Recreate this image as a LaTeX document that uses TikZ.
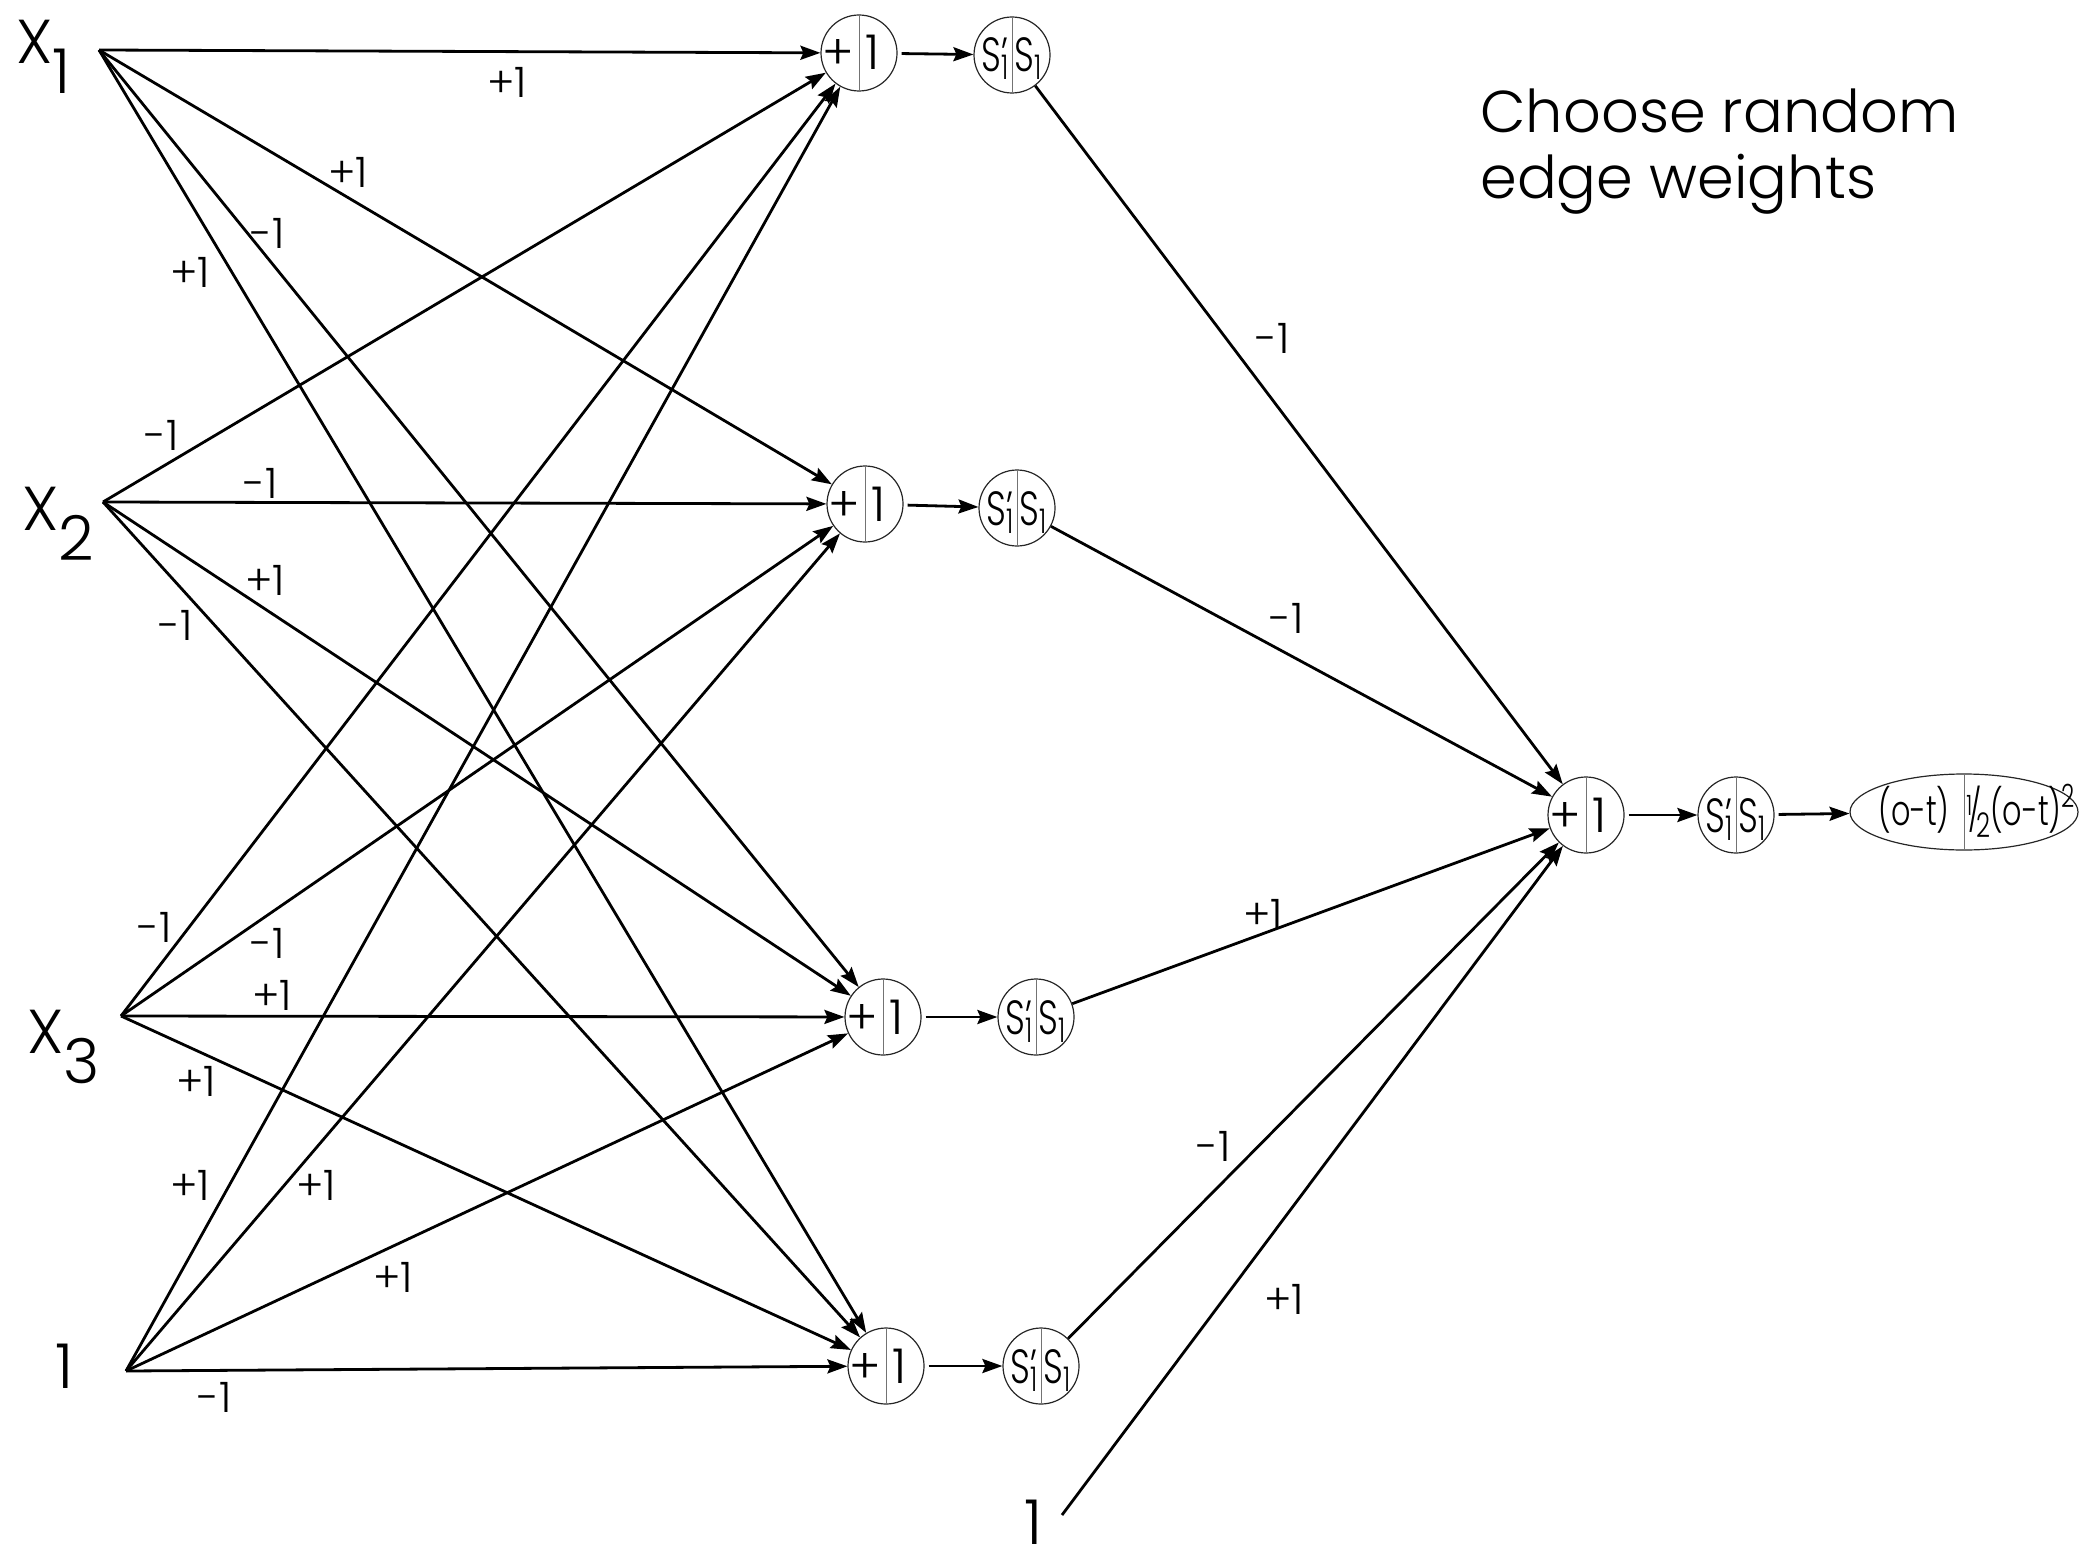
\documentclass[tikz,border=0pt]{standalone}
\usepackage{fontspec}
\IfFontExistsTF{Poppins Light}{\setmainfont{Poppins Light}}{\setmainfont{Poppins}}
\usetikzlibrary{arrows.meta,calc,positioning,shapes.geometric}

% derivative and value of the squashing function
\newcommand{\narrow}[1]{\scalebox{0.72}[1]{#1}}
\newcommand{\sdash}{\narrow{S\rlap{'}\lower4pt\hbox{\fontsize{17}{17}\selectfont 1}}}
\newcommand{\sval}{\narrow{S\lower4pt\hbox{\fontsize{17}{17}\selectfont 1}}}
\newcommand{\halfsq}{\narrow{\raisebox{5pt}{\fontsize{14}{14}\selectfont 1}\kern-3pt/\kern-3.5pt\raisebox{-6pt}{\fontsize{17}{17}\selectfont 2}(o-t)\raisebox{9pt}{\fontsize{16}{16}\selectfont 2}}}

\tikzset{
  unit/.style={circle,draw=black!85,line width=0.6pt,minimum size=38pt,inner sep=0pt},
  errunit/.style={ellipse,draw=black!85,line width=0.6pt,minimum width=114pt,minimum height=38pt,inner sep=0pt},
  split/.style={draw=black!55,line width=0.5pt},
  wire/.style={line width=1.4pt,-{Stealth[length=10pt,width=7pt,inset=1.5pt]}},
  wt/.style={font=\fontsize{21}{21}\selectfont,inner sep=0pt},
  utxt/.style={font=\fontsize{24}{24}\selectfont,inner sep=0pt},
  big/.style={font=\fontsize{31}{31}\selectfont,inner sep=0pt}
}

\begin{document}
\begin{tikzpicture}[x=0.5pt,y=0.5pt,yscale=-1,xscale=1]
\useasboundingbox (0,0) rectangle (2080,1556);

%Inputs
\coordinate (x1) at (99,50);
\coordinate (x2) at (103,502);
\coordinate (x3) at (121,1016);
\coordinate (b1) at (126,1371);
\coordinate (b2) at (1062,1515);
\node[big,anchor=base west] (lx1) at (16,64) {X\lower15pt\hbox{1}};
\node[big,anchor=base west] (lx2) at (22,530) {X\lower15pt\hbox{2}};
\node[big,anchor=base west] (lx3) at (27,1053) {X\lower15pt\hbox{3}};
\node[big,anchor=base] (lb1) at (65,1388) {1};
\node[big,anchor=base] (lb2) at (1034,1544) {1};

%Hidden units
\node[unit] (h1) at (859,53) {};
\node[unit] (h2) at (865,504) {};
\node[unit] (h3) at (883,1017) {};
\node[unit] (h4) at (886,1366) {};
\node[unit] (s1) at (1012,55) {};
\node[unit] (s2) at (1017,508) {};
\node[unit] (s3) at (1036,1017) {};
\node[unit] (s4) at (1041,1366) {};

%Output units
\node[unit] (o) at (1586,815) {};
\node[unit] (so) at (1736,815) {};
\node[errunit] (err) at (1964,812) {};

%Dividers
\draw[split] (h1.north) -- (h1.south);
\draw[split] (h2.north) -- (h2.south);
\draw[split] (h3.north) -- (h3.south);
\draw[split] (h4.north) -- (h4.south);
\draw[split] (s1.north) -- (s1.south);
\draw[split] (s2.north) -- (s2.south);
\draw[split] (s3.north) -- (s3.south);
\draw[split] (s4.north) -- (s4.south);
\draw[split] (o.north) -- (o.south);
\draw[split] (so.north) -- (so.south);
\draw[split] (err.north) -- (err.south);

%Unit contents
\node[utxt,anchor=base east] (h1a) at ($(h1)+(-5,17)$) {+};
\node[utxt,anchor=base west] (h1b) at ($(h1)+(6,17)$) {1};
\node[utxt,anchor=base east] (h2a) at ($(h2)+(-5,17)$) {+};
\node[utxt,anchor=base west] (h2b) at ($(h2)+(6,17)$) {1};
\node[utxt,anchor=base east] (h3a) at ($(h3)+(-5,17)$) {+};
\node[utxt,anchor=base west] (h3b) at ($(h3)+(6,17)$) {1};
\node[utxt,anchor=base east] (h4a) at ($(h4)+(-5,17)$) {+};
\node[utxt,anchor=base west] (h4b) at ($(h4)+(6,17)$) {1};
\node[utxt,anchor=base east] (oa) at ($(o)+(-5,17)$) {+};
\node[utxt,anchor=base west] (ob) at ($(o)+(6,17)$) {1};
\node[utxt,anchor=base east] (s1a) at ($(s1)+(-3,17)$) {\sdash};
\node[utxt,anchor=base west] (s1b) at ($(s1)+(2,17)$) {\sval};
\node[utxt,anchor=base east] (s2a) at ($(s2)+(-3,17)$) {\sdash};
\node[utxt,anchor=base west] (s2b) at ($(s2)+(2,17)$) {\sval};
\node[utxt,anchor=base east] (s3a) at ($(s3)+(-3,17)$) {\sdash};
\node[utxt,anchor=base west] (s3b) at ($(s3)+(2,17)$) {\sval};
\node[utxt,anchor=base east] (s4a) at ($(s4)+(-3,17)$) {\sdash};
\node[utxt,anchor=base west] (s4b) at ($(s4)+(2,17)$) {\sval};
\node[utxt,anchor=base east] (soa) at ($(so)+(-3,17)$) {\sdash};
\node[utxt,anchor=base west] (sob) at ($(so)+(2,17)$) {\sval};
\node[utxt,font=\fontsize{21}{21}\selectfont,anchor=base east] (erra) at ($(err)+(-14,13)$) {\narrow{(o-t)}};
\node[utxt,font=\fontsize{21}{21}\selectfont,anchor=base west] (errb) at ($(err)+(2,13)$) {\halfsq};

%Input to hidden
\draw[wire] (x1) -- (h1);
\draw[wire] (x1) -- (h2);
\draw[wire] (x1) -- (h3);
\draw[wire] (x1) -- (h4);
\draw[wire] (x2) -- (h1);
\draw[wire] (x2) -- (h2);
\draw[wire] (x2) -- (h3);
\draw[wire] (x2) -- (h4);
\draw[wire] (x3) -- (h1);
\draw[wire] (x3) -- (h2);
\draw[wire] (x3) -- (h3);
\draw[wire] (x3) -- (h4);
\draw[wire] (b1) -- (h1);
\draw[wire] (b1) -- (h2);
\draw[wire] (b1) -- (h3);
\draw[wire] (b1) -- (h4);

%Hidden to output
\draw[wire,shorten <=2pt] (h1) -- (s1);
\draw[wire,shorten <=2pt] (h2) -- (s2);
\draw[wire,shorten <=2pt] (h3) -- (s3);
\draw[wire,shorten <=2pt] (h4) -- (s4);
\draw[wire] (s1) -- (o);
\draw[wire] (s2) -- (o);
\draw[wire] (s3) -- (o);
\draw[wire] (s4) -- (o);
\draw[wire] (b2) -- (o);
\draw[wire,shorten <=2pt] (o) -- (so);
\draw[wire,shorten <=2pt] (so) -- (err);

%Edge weights
\node[wt] (w11) at (507,82) {+1};
\node[wt] (w12) at (348,172) {+1};
\node[wt] (w13) at (268,233) {-1};
\node[wt] (w14) at (190,272) {+1};
\node[wt] (w21) at (162,435) {-1};
\node[wt] (w22) at (261,483) {-1};
\node[wt] (w23) at (265,580) {+1};
\node[wt] (w24) at (176,625) {-1};
\node[wt] (w31) at (155,927) {-1};
\node[wt] (w32) at (268,943) {-1};
\node[wt] (w33) at (272,995) {+1};
\node[wt] (w34) at (196,1081) {+1};
\node[wt] (w41) at (190,1185) {+1};
\node[wt] (w42) at (316,1185) {+1};
\node[wt] (w43) at (393,1277) {+1};
\node[wt] (w44) at (215,1397) {-1};
\node[wt] (v1) at (1273,338) {-1};
\node[wt] (v2) at (1287,618) {-1};
\node[wt] (v3) at (1263,914) {+1};
\node[wt] (v4) at (1214,1146) {-1};
\node[wt] (v5) at (1284,1299) {+1};

%Note
\node[font=\fontsize{29.5}{33}\selectfont,align=left,anchor=north west,inner sep=0pt] (note) at (1480,88) {Choose random\\edge weights};

\end{tikzpicture}
\end{document}
